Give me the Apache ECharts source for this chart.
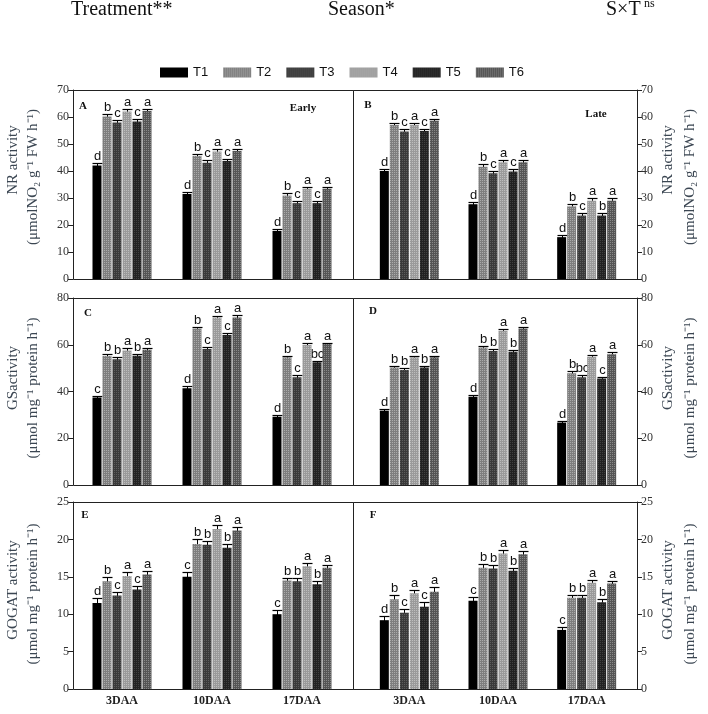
<!DOCTYPE html>
<html><head><meta charset="utf-8">
<script src="https://cdn.jsdelivr.net/npm/echarts@6/dist/echarts.min.js"></script>
<style>html,body{margin:0;padding:0;background:#fff}#c{width:708px;height:714px}</style>
</head><body><div id="c"></div>
<script>
// ---------- DATA ----------
const categories = ['3DAA', '10DAA', '17DAA'];
const treatments = ['T1', 'T2', 'T3', 'T4', 'T5', 'T6'];

// axis ranges [min, max, interval]
const nrAxis = [0, 70, 10];
const gsAxis = [0, 80, 20];
const gogatAxis = [0, 25, 5];

// NR activity, Early season (rows = T1..T6, columns = 3DAA,10DAA,17DAA)
const nrEarlyMean = [[42.0, 31.5, 17.8], [60.2, 45.6, 30.9], [58.0, 43.1, 28.1], [62.0, 47.2, 33.4], [58.3, 43.7, 28.1], [62.2, 47.4, 33.4]];
const nrEarlyErr = [[0.9, 0.9, 0.9], [0.8, 0.8, 0.8], [0.8, 0.9, 0.9], [0.8, 0.8, 0.7], [0.8, 0.8, 0.8], [0.8, 0.9, 0.8]];
const nrEarlyLetters = [['d', 'd', 'd'], ['b', 'b', 'b'], ['c', 'c', 'c'], ['a', 'a', 'a'], ['c', 'c', 'c'], ['a', 'a', 'a']];

// NR activity, Late season
const nrLateMean = [[40.0, 27.7, 15.5], [57.0, 41.6, 26.9], [54.6, 39.2, 23.5], [57.0, 43.2, 29.0], [54.8, 39.8, 23.5], [58.6, 43.2, 29.0]];
const nrLateErr = [[0.9, 0.9, 0.8], [0.8, 0.9, 0.9], [0.8, 0.8, 0.9], [0.8, 0.8, 0.9], [0.9, 0.8, 0.8], [0.8, 0.9, 0.9]];
const nrLateLetters = [['d', 'd', 'd'], ['b', 'b', 'b'], ['c', 'c', 'c'], ['a', 'a', 'a'], ['c', 'c', 'b'], ['a', 'a', 'a']];

// GS activity, Early season
const gsEarlyMean = [[37.4, 41.4, 29.2], [55.2, 67.0, 54.6], [53.8, 58.2, 46.1], [57.5, 71.7, 59.9], [55.3, 64.2, 52.5], [57.9, 71.7, 60.3]];
const gsEarlyErr = [[0.8, 0.9, 0.9], [0.8, 0.8, 0.8], [0.8, 0.8, 0.9], [0.9, 0.8, 0.9], [0.8, 0.9, 0.7], [0.8, 0.9, 0.6]];
const gsEarlyLetters = [['c', 'd', 'd'], ['b', 'b', 'b'], ['b', 'c', 'c'], ['a', 'a', 'a'], ['b', 'c', 'bc'], ['a', 'a', 'a']];

// GS activity, Late season
const gsLateMean = [[31.8, 37.8, 26.7], [50.3, 58.8, 47.8], [49.2, 57.3, 46.1], [54.6, 66.0, 54.9], [50.3, 57.0, 45.6], [54.6, 67.0, 55.9]];
const gsLateErr = [[0.8, 0.8, 0.8], [0.8, 0.8, 0.9], [0.7, 0.7, 0.8], [0.8, 0.8, 0.8], [0.8, 0.7, 0.7], [0.8, 0.8, 1.0]];
const gsLateLetters = [['d', 'd', 'd'], ['b', 'b', 'b'], ['b', 'b', 'bc'], ['a', 'a', 'a'], ['b', 'b', 'c'], ['a', 'a', 'a']];

// GOGAT activity, Early season
const gogatEarlyMean = [[11.5, 15.0, 10.0], [14.4, 19.4, 14.5], [12.5, 19.3, 14.4], [15.1, 21.4, 16.4], [13.3, 18.9, 14.0], [15.3, 21.2, 16.2]];
const gogatEarlyErr = [[0.6, 0.6, 0.5], [0.6, 0.6, 0.4], [0.5, 0.5, 0.4], [0.6, 0.5, 0.4], [0.5, 0.5, 0.4], [0.5, 0.5, 0.4]];
const gogatEarlyLetters = [['d', 'c', 'c'], ['b', 'b', 'b'], ['c', 'b', 'b'], ['a', 'a', 'a'], ['c', 'b', 'b'], ['a', 'a', 'a']];

// GOGAT activity, Late season
const gogatLateMean = [[9.2, 11.8, 7.9], [12.0, 16.2, 12.2], [10.2, 16.1, 12.2], [12.8, 18.1, 14.2], [11.0, 15.8, 11.6], [13.0, 18.0, 14.1]];
const gogatLateErr = [[0.6, 0.5, 0.4], [0.6, 0.5, 0.4], [0.5, 0.5, 0.4], [0.5, 0.5, 0.4], [0.6, 0.4, 0.4], [0.6, 0.4, 0.4]];
const gogatLateLetters = [['d', 'c', 'c'], ['b', 'b', 'b'], ['c', 'b', 'b'], ['a', 'a', 'a'], ['c', 'b', 'b'], ['a', 'a', 'a']];

const axisNames = [
  ['NR activity', '(μmolNO₂ g⁻¹ FW h⁻¹)'],
  ['GSactivity', '(μmol mg⁻¹ protein h⁻¹)'],
  ['GOGAT activity', '(μmol mg⁻¹ protein h⁻¹)']
];

// ---------- STYLE / LAYOUT ----------
const BW = 9, GAP = 1;
const SERIF = '"Liberation Serif", "Times New Roman", serif';
const SANS = '"Liberation Sans", Arial, sans-serif';
const barColors = ['#000000', '#7e7e7e', '#3a3a3a', '#9a9a9a', '#222222', '#555555'];
const decalAlpha = [0, 0.35, 0.18, 0.35, 0.14, 0.3];
const rows = [{ top: 90, h: 189 }, { top: 298, h: 187 }, { top: 502, h: 187 }];
const cols = [{ left: 77, w: 270, fx: 73, fw: 280 }, { left: 365, w: 266, fx: 353, fw: 284 }];

const panels = [
  { r: 0, c: 0, mean: nrEarlyMean, err: nrEarlyErr, lt: nrEarlyLetters, ax: nrAxis, tag: 'A', season: 'Early' },
  { r: 0, c: 1, mean: nrLateMean, err: nrLateErr, lt: nrLateLetters, ax: nrAxis, tag: 'B', season: 'Late' },
  { r: 1, c: 0, mean: gsEarlyMean, err: gsEarlyErr, lt: gsEarlyLetters, ax: gsAxis, tag: 'C' },
  { r: 1, c: 1, mean: gsLateMean, err: gsLateErr, lt: gsLateLetters, ax: gsAxis, tag: 'D' },
  { r: 2, c: 0, mean: gogatEarlyMean, err: gogatEarlyErr, lt: gogatEarlyLetters, ax: gogatAxis, tag: 'E' },
  { r: 2, c: 1, mean: gogatLateMean, err: gogatLateErr, lt: gogatLateLetters, ax: gogatAxis, tag: 'F' }
];

const grid = [], xAxis = [], yAxis = [], series = [], graphic = [];

panels.forEach((p, pi) => {
  const row = rows[p.r], col = cols[p.c];
  grid.push({ left: col.left, top: row.top, width: col.w, height: row.h, containLabel: false });
  xAxis.push({
    type: 'category', gridIndex: pi, data: categories,
    axisLine: { show: false }, axisTick: { show: false },
    axisLabel: { show: p.r === 2, fontFamily: SERIF, fontWeight: 'bold', fontSize: 12, color: '#222', margin: 6 }
  });
  yAxis.push({
    type: 'value', gridIndex: pi, min: p.ax[0], max: p.ax[1], interval: p.ax[2],
    position: p.c === 0 ? 'left' : 'right', offset: p.c === 0 ? 4 : 6,
    axisLine: { show: true, lineStyle: { color: '#222' } },
    axisTick: { show: true, length: 5, lineStyle: { color: '#222' } },
    splitLine: { show: false },
    axisLabel: { fontFamily: SERIF, fontSize: 12, color: '#333', margin: 4 }
  });
  treatments.forEach((t, i) => {
    const style = { color: barColors[i] };
    if (decalAlpha[i] > 0) {
      style.decal = { symbol: 'rect', symbolSize: 1, dashArrayX: [1, 1], dashArrayY: [1, 1], color: 'rgba(255,255,255,' + decalAlpha[i] + ')' };
    }
    series.push({
      type: 'bar', name: t, xAxisIndex: pi, yAxisIndex: pi,
      data: p.mean[i], barWidth: BW, barGap: (GAP / BW * 100) + '%',
      itemStyle: style, emphasis: { disabled: true }, animation: false
    });
    const letters = p.lt[i];
    series.push({
      type: 'custom', name: t + '_err', xAxisIndex: pi, yAxisIndex: pi, animation: false, clip: false,
      data: p.mean[i].map((v, k) => [k, v, p.err[i][k]]),
      renderItem: function (params, api) {
        const ci = api.value(0), v = api.value(1), e = api.value(2);
        const off = (i - 2.5) * (BW + GAP);
        const top = api.coord([ci, v + e]);
        const bot = api.coord([ci, v - e]);
        const x = Math.round(top[0] + off) + 0.5;
        const yt = Math.round(top[1]) + 0.5;
        return {
          type: 'group', children: [
            { type: 'line', shape: { x1: x, y1: bot[1], x2: x, y2: yt }, style: { stroke: '#000', lineWidth: 1 } },
            { type: 'line', shape: { x1: x - BW / 2 - 0.5, y1: yt, x2: x + BW / 2 + 0.5, y2: yt }, style: { stroke: '#000', lineWidth: 1.2 } },
            { type: 'text', x: x, y: yt - 1, style: { text: letters[params.dataIndex], textAlign: 'center', textVerticalAlign: 'bottom', font: '13px ' + SANS, fill: '#111' } }
          ]
        };
      }
    });
  });
  // frame
  graphic.push({ type: 'rect', shape: { x: col.fx + 0.5, y: row.top + 0.5, width: col.fw, height: row.h }, style: { fill: 'none', stroke: '#222', lineWidth: 1 }, z: 100 });
  // panel tag
  const tagPos = [[83, 106], [368, 105], [88, 313], [373, 311], [85, 515], [373, 515]][pi];
  graphic.push({ type: 'text', x: tagPos[0], y: tagPos[1], style: { text: p.tag, font: 'bold 11px ' + SERIF, fill: '#111', textAlign: 'center', textVerticalAlign: 'middle' }, z: 100 });
  if (p.season) {
    const sp = p.c === 0 ? [303, 108] : [596, 114];
    graphic.push({ type: 'text', x: sp[0], y: sp[1], style: { text: p.season, font: 'bold 11px ' + SERIF, fill: '#111', textAlign: 'center', textVerticalAlign: 'middle' }, z: 100 });
  }
});

// axis names (rotated, two lines) on both sides
const nameY = [[160, 177], [378, 388], [590, 594]];
axisNames.forEach((nm, r) => {
  [[13, 33], [668, 690]].forEach(xs => {
    graphic.push({ type: 'text', x: xs[0], y: nameY[r][0], rotation: Math.PI / 2, style: { text: nm[0], font: '15px ' + SERIF, fill: '#3b4652', textAlign: 'center', textVerticalAlign: 'middle' } });
    graphic.push({ type: 'text', x: xs[1], y: nameY[r][1], rotation: Math.PI / 2, style: { text: nm[1], font: '15px ' + SERIF, fill: '#3b4652', textAlign: 'center', textVerticalAlign: 'middle' } });
  });
});

// header texts
graphic.push({ type: 'text', x: 71, y: 10, style: { text: 'Treatment**', font: '20px ' + SERIF, fill: '#111', textVerticalAlign: 'middle' } });
graphic.push({ type: 'text', x: 328, y: 10, style: { text: 'Season*', font: '20px ' + SERIF, fill: '#111', textVerticalAlign: 'middle' } });
graphic.push({ type: 'text', x: 606, y: 10, style: { text: 'S×T', font: '20px ' + SERIF, fill: '#111', textVerticalAlign: 'middle' } });
graphic.push({ type: 'text', x: 644, y: 4, style: { text: 'ns', font: '12px ' + SERIF, fill: '#111', textVerticalAlign: 'middle' } });

const chart = echarts.init(document.getElementById('c'), null, { renderer: 'canvas' });
chart.setOption({
  animation: false,
  backgroundColor: '#fff',
  legend: {
    data: treatments, top: 61, left: 155, icon: 'rect', itemWidth: 28, itemHeight: 10, itemGap: 15,
    textStyle: { fontFamily: SANS, fontSize: 13, color: '#111' }
  },
  grid, xAxis, yAxis, series, graphic
});
</script>
</body></html>
